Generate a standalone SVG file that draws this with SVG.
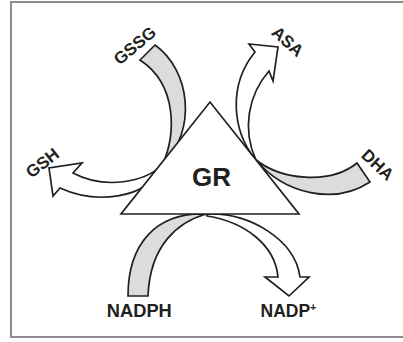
<svg xmlns="http://www.w3.org/2000/svg" width="403" height="342" viewBox="0 0 403 342">
<style>
.band{fill:#dcdcdc;stroke:#231f20;stroke-width:1.7;stroke-linejoin:miter}
.arr{fill:#ffffff;stroke:#231f20;stroke-width:1.7;stroke-linejoin:miter}
.lbl{font-family:"Liberation Sans",Arial,sans-serif;font-weight:bold;fill:#231f20;text-anchor:middle}
</style>
<rect x="11" y="2" width="400" height="335" fill="#ffffff" stroke="#8c8c8c" stroke-width="2"/>
<g id="connectors">
  <path id="gssg-band" class="band" d="M155,45 C190,70 198,130 162,166 C176,135 178,85 140,60 Z"/>
  <path id="gsh-arrow" class="arr" d="M162,165 C145,182 105,190 73,173 L82,163 L49,168 L53,196 L60,188 C95,204 145,200 163,167 Z"/>
  <path id="asa-arrow" class="arr" d="M255,159 C232,130 228,85 255,52 L249,44 L278,47 L273,81 L269,71 C248,95 242,130 256,160 Z"/>
  <path id="dha-band" class="band" d="M255,159 C280,180 330,185 357,163 L370,182 C335,205 285,195 255,159 Z"/>
  <path id="nadph-band" class="band" d="M128,296 C128,245 155,212 206,214 C178,222 150,245 148,296 Z"/>
  <path id="nadp-arrow" class="arr" d="M206,214 C250,212 295,240 300,277 L309,277 L289,296 L265,277 L278,277 C275,245 245,222 207,216 Z"/>
</g>
<g id="GR">
  <polygon points="121,214 299,214 210,102" fill="#ffffff" stroke="#231f20" stroke-width="1.7" stroke-linejoin="miter"/>
  <text class="lbl" x="211.5" y="186" font-size="26">GR</text>
</g>
<g id="GSSG"><text class="lbl" font-size="17" transform="translate(138.5,50) rotate(-40)">GSSG</text></g>
<g id="GSH"><text class="lbl" font-size="17" transform="translate(46,167.5) rotate(-38)">GSH</text></g>
<g id="ASA"><text class="lbl" font-size="17" transform="translate(283.8,45.8) rotate(42)">ASA</text></g>
<g id="DHA"><text class="lbl" font-size="17" transform="translate(373.8,169.1) rotate(43)">DHA</text></g>
<g id="NADPH"><text class="lbl" x="139.3" y="316.7" font-size="19" textLength="65" lengthAdjust="spacingAndGlyphs">NADPH</text></g>
<g id="NADP"><text class="lbl" x="260.5" y="316.7" font-size="17.5" style="text-anchor:start">NADP<tspan font-size="11" dy="-6">+</tspan></text></g>
</svg>
